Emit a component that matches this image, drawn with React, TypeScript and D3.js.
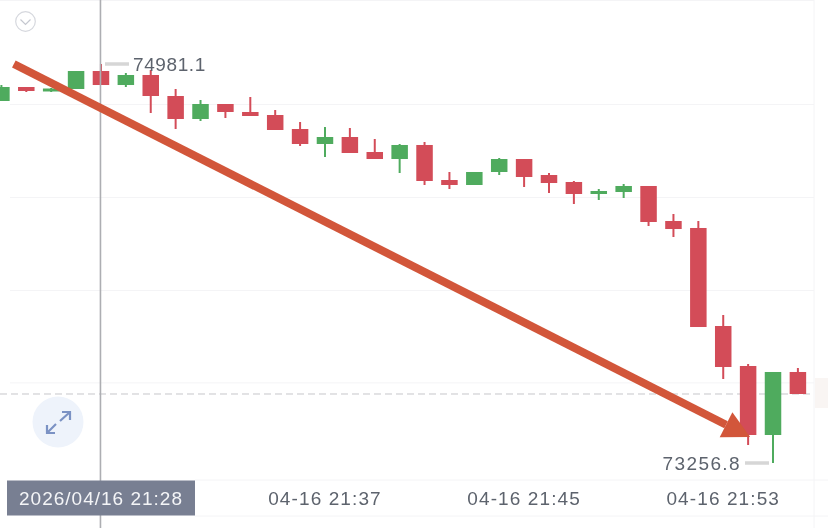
import React, { useEffect, useRef } from 'react';
import * as d3 from 'd3';

const UP = '#4fab5e';
const DOWN = '#d34c58';

// one entry per candle
const opens = [74821.2, 74881.7, 74862.3, 74873.1, 74950.8, 74890.3, 74933.6, 74842.8, 74743.4, 74808.2, 74773.7, 74760.7, 74700.2, 74635.4, 74665.6, 74600.8, 74570.5, 74631.1, 74479.8, 74458.2, 74514.4, 74570.5, 74501.4, 74471.2, 74419.3, 74427.9, 74453.9, 74302.6, 74272.4, 73848.8, 73676.0, 73377.8, 73650.1];
const closes = [74881.7, 74864.4, 74875.2, 74950.8, 74890.3, 74933.6, 74842.8, 74743.4, 74808.2, 74773.7, 74756.4, 74695.9, 74635.4, 74665.6, 74596.5, 74570.5, 74631.1, 74475.5, 74458.2, 74514.4, 74570.5, 74492.8, 74466.8, 74419.3, 74432.3, 74453.9, 74298.3, 74268.0, 73844.5, 73671.7, 73377.8, 73650.1, 73555.0];
const highs = [74890.3, 74881.7, 74877.4, 74950.8, 74981.1, 74942.2, 74955.2, 74873.1, 74825.5, 74808.2, 74838.5, 74782.3, 74730.4, 74708.8, 74704.5, 74657.0, 74635.4, 74644.0, 74514.4, 74514.4, 74574.9, 74570.5, 74510.0, 74475.5, 74440.9, 74462.5, 74453.9, 74332.9, 74302.6, 73896.4, 73684.6, 73650.1, 73667.3];
const lows = [74821.2, 74860.1, 74860.1, 74873.1, 74890.3, 74881.7, 74769.3, 74700.2, 74734.8, 74747.7, 74756.4, 74695.9, 74626.7, 74579.2, 74596.5, 74570.5, 74510.0, 74458.2, 74440.9, 74458.2, 74501.4, 74449.5, 74423.6, 74376.1, 74393.4, 74402.0, 74281.0, 74233.5, 73844.5, 73619.8, 73334.6, 73256.8, 73555.0];

const gridPrices = [74806.0, 74404.0, 74002.0, 73603.0];
const lastPrice = 73555.0;
const highLabel = 74981.1;
const lowLabel = 73256.8;

const timeTicks = [
  { index: 13, label: '04-16 21:37' },
  { index: 21, label: '04-16 21:45' },
  { index: 29, label: '04-16 21:53' },
];
const crosshairLabel = '2026/04/16 21:28';
const crosshairIndex = 4;

const FONT = '"Liberation Sans", Arial, sans-serif';
const TEXT = '#5d636d';

const App = () => {
  const svgRef = useRef<SVGSVGElement | null>(null);

  useEffect(() => {
    const svg = d3.select(svgRef.current);
    svg.selectAll('*').remove();

    const x = d3.scaleLinear().domain([0, 32]).range([1.4, 797.9]);
    const y = d3.scaleLinear().domain([highLabel, lowLabel]).range([64, 463]);
    const bodyWidth = 16.5;

    svg.append('rect').attr('width', 828).attr('height', 528).attr('fill', '#fff');

    // grid
    const grid = svg.append('g').attr('stroke', '#f4f4f6').attr('stroke-width', 1);
    grid.selectAll('line.h').data(gridPrices).enter().append('line')
      .attr('class', 'h')
      .attr('x1', 10).attr('x2', 814)
      .attr('y1', d => y(d)).attr('y2', d => y(d));
    grid.append('line').attr('x1', 0).attr('x2', 814).attr('y1', 0.5).attr('y2', 0.5);
    grid.append('line').attr('x1', 814).attr('x2', 814).attr('y1', 0).attr('y2', 528);
    grid.append('line').attr('x1', 195).attr('x2', 828).attr('y1', 480).attr('y2', 480);
    grid.append('line').attr('x1', 195).attr('x2', 828).attr('y1', 516).attr('y2', 516);

    // last price tag on the right edge + dashed line
    svg.append('rect').attr('x', 815).attr('y', y(lastPrice) - 16).attr('width', 13).attr('height', 30).attr('fill', '#f9f5f3');
    svg.append('line')
      .attr('x1', 0).attr('x2', 814)
      .attr('y1', y(lastPrice)).attr('y2', y(lastPrice))
      .attr('stroke', '#c6c6ca').attr('stroke-width', 1).attr('stroke-dasharray', '7 4');

    // candles
    const candles = svg.append('g').selectAll('g').data(opens).enter().append('g')
      .attr('fill', (d, i) => (closes[i] >= d ? UP : DOWN))
      .attr('stroke', (d, i) => (closes[i] >= d ? UP : DOWN));
    candles.append('line')
      .attr('x1', (d, i) => x(i)).attr('x2', (d, i) => x(i))
      .attr('y1', (d, i) => y(highs[i])).attr('y2', (d, i) => y(lows[i]))
      .attr('stroke-width', 2);
    candles.append('rect')
      .attr('x', (d, i) => x(i) - bodyWidth / 2)
      .attr('width', bodyWidth)
      .attr('y', (d, i) => y(Math.max(d, closes[i])))
      .attr('height', (d, i) => Math.abs(y(d) - y(closes[i])))
      .attr('stroke', 'none');

    // crosshair
    svg.append('line')
      .attr('x1', x(crosshairIndex) - 0.5).attr('x2', x(crosshairIndex) - 0.5)
      .attr('y1', 0).attr('y2', 528)
      .attr('stroke', '#adaeb2').attr('stroke-width', 1.6);

    // high / low marks
    const markStyle = (sel: any) => sel
      .attr('font-family', FONT).attr('font-size', 19)
      .attr('fill', TEXT).attr('dominant-baseline', 'central');
    svg.append('line').attr('x1', 105).attr('x2', 129).attr('y1', y(highLabel)).attr('y2', y(highLabel))
      .attr('stroke', '#d6d6d6').attr('stroke-width', 3.5);
    svg.append('text').attr('x', 133).attr('y', y(highLabel)).attr('letter-spacing', 0.6).call(markStyle).text(d3.format('.1f')(highLabel));
    svg.append('line').attr('x1', 745).attr('x2', 769).attr('y1', y(lowLabel)).attr('y2', y(lowLabel))
      .attr('stroke', '#d6d6d6').attr('stroke-width', 3.5);
    svg.append('text').attr('x', 741).attr('y', y(lowLabel)).attr('text-anchor', 'end').attr('letter-spacing', 1.4).call(markStyle).text(d3.format('.1f')(lowLabel));

    // drawn-on arrow
    const from: [number, number] = [x(0.5), y(highLabel)];
    const tip: [number, number] = [x(30) + 2, y(73377.8) + 2];
    const angle = Math.atan2(tip[1] - from[1], tip[0] - from[0]);
    const ux = Math.cos(angle);
    const uy = Math.sin(angle);
    const base: [number, number] = [tip[0] - 27 * ux, tip[1] - 27 * uy];
    svg.append('line')
      .attr('x1', from[0]).attr('y1', from[1]).attr('x2', base[0]).attr('y2', base[1])
      .attr('stroke', '#d2563a').attr('stroke-width', 8);
    svg.append('path')
      .attr('d', d3.line()([
        tip,
        [base[0] - 14 * uy, base[1] + 14 * ux],
        [base[0] + 14 * uy, base[1] - 14 * ux],
      ]) + 'Z')
      .attr('fill', '#d2563a');

    // time axis
    svg.append('g').selectAll('text').data(timeTicks).enter().append('text')
      .attr('x', d => x(d.index))
      .attr('y', 498)
      .attr('text-anchor', 'middle')
      .attr('dominant-baseline', 'central')
      .attr('font-family', FONT).attr('font-size', 19).attr('letter-spacing', 1.1)
      .attr('fill', TEXT)
      .text(d => d.label);

    // crosshair time label
    svg.append('rect').attr('x', 7).attr('y', 480.5).attr('width', 188).attr('height', 35).attr('fill', '#787f92');
    svg.append('text')
      .attr('x', 101).attr('y', 498)
      .attr('text-anchor', 'middle').attr('dominant-baseline', 'central')
      .attr('font-family', FONT).attr('font-size', 19).attr('letter-spacing', 1)
      .attr('fill', '#f4f5f7')
      .text(crosshairLabel);

    // collapse button
    svg.append('circle').attr('cx', 25.5).attr('cy', 21.5).attr('r', 9.8)
      .attr('fill', '#fff').attr('stroke', '#d6d8de').attr('stroke-width', 1.2);
    svg.append('path').attr('d', 'M20.5 19.5L25.5 24.5L30.5 19.5')
      .attr('fill', 'none').attr('stroke', '#c5c8d0').attr('stroke-width', 1.2);

    // expand button
    svg.append('circle').attr('cx', 58).attr('cy', 422).attr('r', 25.5).attr('fill', '#eef3fb');
    svg.append('path')
      .attr('d', 'M62 412L70 412L70 420M70 412L60 421 M47 425L47 433L55 433M47 433L56 424')
      .attr('fill', 'none').attr('stroke', '#7b92c4').attr('stroke-width', 2.2);
  }, []);

  return <svg ref={svgRef} width={828} height={528} style={{ position: 'fixed', left: 0, top: 0, filter: 'blur(0.4px)' }} />;
};

export default App;
